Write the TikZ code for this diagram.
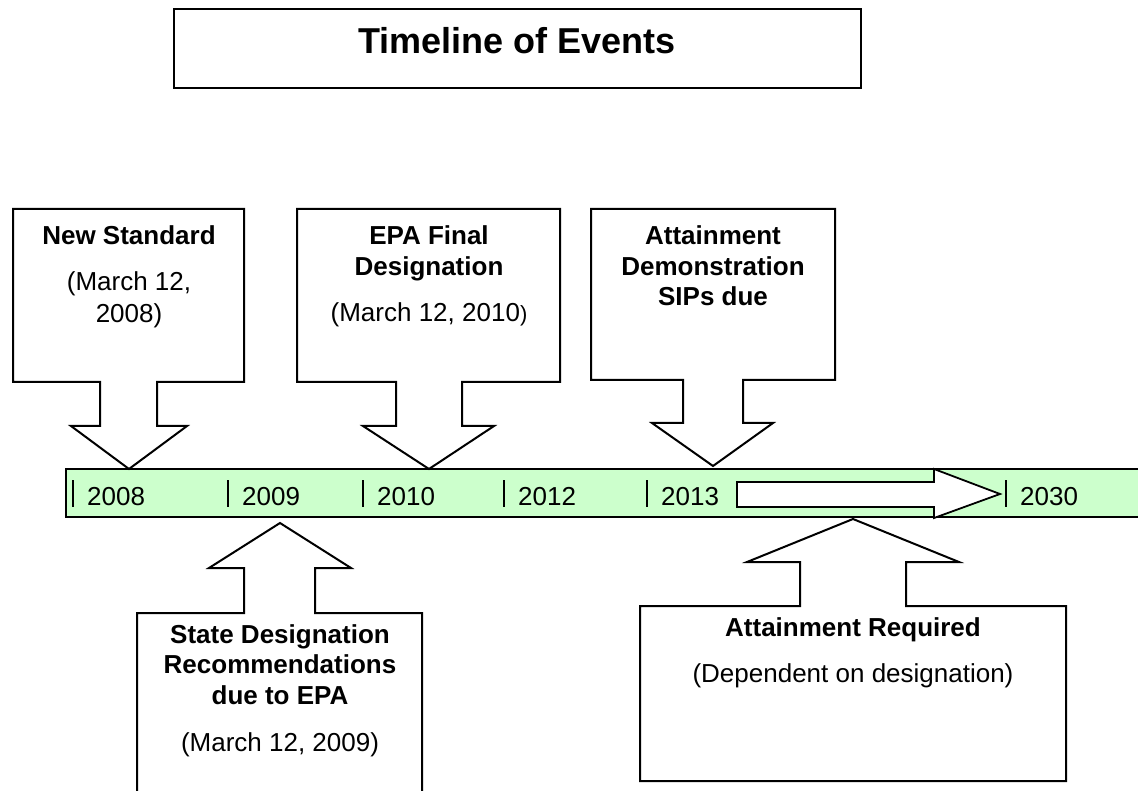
\documentclass[tikz,border=0pt]{standalone}
\usepackage{fontspec}
\setmainfont{Liberation Sans}
\begin{document}
\begin{tikzpicture}[x=1pt,y=-1pt,
  shapeline/.style={draw=black,line width=2pt,line join=miter,fill=white},
  txt/.style={font=\fontsize{26}{31}\selectfont,inner sep=0pt,anchor=base},
  btxt/.style={font=\fontsize{26}{31}\selectfont\bfseries,inner sep=0pt,anchor=base},
  year/.style={font=\fontsize{26}{31}\selectfont,inner sep=0pt,anchor=base west},
  tick/.style={draw=black,line width=1.6pt}]
\useasboundingbox (0,0) rectangle (1138,791);
\fill[white] (0,0) rectangle (1138,791);

% title
\draw[line width=2.2pt] (174,9) rectangle (861,88);
\node[font=\fontsize{36}{40}\selectfont\bfseries,inner sep=0pt,anchor=base] (title) at (517,54) {Timeline of Events};

% timeline bar
\fill[fill={rgb,255:red,204;green,255;blue,204}] (66,469) rectangle (1138,517);
\draw[line width=2pt] (1138,469) -- (66,469) -- (66,517) -- (1138,517);

% inner block arrow
\draw[shapeline,line width=1.8pt] (737,482) -- (934,482) -- (934,469) -- (1000,494) -- (934,518) -- (934,507) -- (737,507) -- cycle;

% ticks and years
\foreach \x/\y in {73/2008,228/2009,363/2010,504/2012,647/2013,1006/2030}{
  \draw[tick] (\x,480) -- (\x,507);
  \node[year] (y\y) at (\x+14,505) {\y};
}

% top callouts
\draw[shapeline] (13,209) -- (244,209) -- (244,382) -- (157,382) -- (157,426) -- (187,426) -- (129,469) -- (71,426) -- (100,426) -- (100,382) -- (13,382) -- cycle;
\node[btxt] (ns1) at (129,245) {New Standard};
\node[txt] (ns2) at (129,291) {(March 12,};
\node[txt] (ns3) at (129,323) {2008)};

\draw[shapeline] (297,209) -- (560,209) -- (560,382) -- (462,382) -- (462,426) -- (494,426) -- (429,469) -- (363,426) -- (396,426) -- (396,382) -- (297,382) -- cycle;
\node[btxt] (epa1) at (429,245) {EPA Final};
\node[btxt] (epa2) at (429,276) {Designation};
\node[txt] (epa3) at (429,322) {(March 12, 2010{\fontsize{22}{26}\selectfont )}};

\draw[shapeline] (591,209) -- (835,209) -- (835,380) -- (743,380) -- (743,423) -- (773,423) -- (713,466) -- (652,423) -- (683,423) -- (683,380) -- (591,380) -- cycle;
\node[btxt] (ad1) at (713,245) {Attainment};
\node[btxt] (ad2) at (713,276) {Demonstration};
\node[btxt] (ad3) at (713,306) {SIPs due};

% bottom callouts
\draw[shapeline] (137,792) -- (137,613) -- (244,613) -- (244,568) -- (209,568) -- (280,523) -- (351,568) -- (315,568) -- (315,613) -- (422,613) -- (422,792);
\node[btxt] (sd1) at (280,643) {State Designation};
\node[btxt] (sd2) at (280,673) {Recommendations};
\node[btxt] (sd3) at (280,704) {due to EPA};
\node[txt] (sd4) at (280,751) {(March 12, 2009)};

\draw[shapeline] (640,606) -- (800,606) -- (800,562) -- (747,562) -- (853,519) -- (959,562) -- (906,562) -- (906,606) -- (1066,606) -- (1066,781) -- (640,781) -- cycle;
\node[btxt] (ar1) at (853,636) {Attainment Required};
\node[txt] (ar2) at (853,682) {(Dependent on designation)};
\end{tikzpicture}
\end{document}
